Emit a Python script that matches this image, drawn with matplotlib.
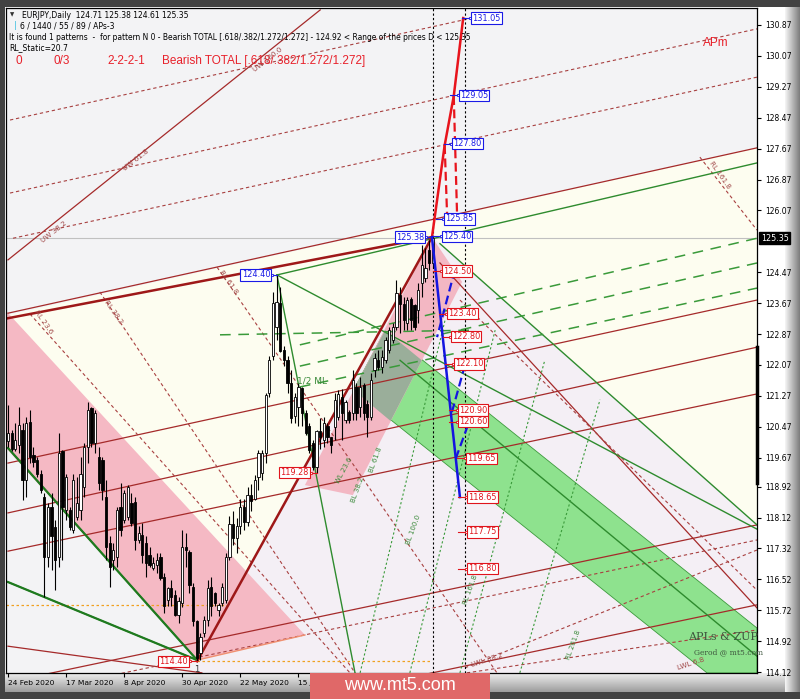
import numpy as np
import matplotlib
matplotlib.use('Agg')
import matplotlib.pyplot as plt
from matplotlib.patches import Polygon, Rectangle
import matplotlib.transforms as mtransforms

plt.rcParams['font.family'] = ['DejaVu Sans']

# ---------------- candles (bar index 0 = 24 Feb 2020) ----------------
opens = [120.10,120.30,119.90,120.00,120.39,119.09,120.60,119.74,119.61,119.26,
         118.66,117.10,118.40,117.88,117.11,119.83,118.32,118.32,117.80,118.14,
         118.32,118.92,119.95,120.95,120.04,119.70,119.61,118.66,117.45,117.02,
         117.11,118.40,118.06,118.14,118.49,118.53,117.54,117.67,117.46,117.15,
         116.81,116.89,117.11,116.59,115.99,116.29,116.12,115.60,115.90,117.37,
         117.24,116.33,115.43,114.61,115.12,115.47,116.33,116.16,115.73,115.90,
         115.99,117.11,117.95,117.60,117.90,118.40,118.00,118.70,118.60,119.18,
         119.27,119.79,121.34,122.29,123.06,123.67,122.46,122.20,121.60,120.74,
         120.99,121.47,120.82,120.48,120.04,119.44,120.35,120.13,120.50,120.20,
         120.47,120.73,121.25,120.64,120.86,120.82,121.51,120.99,121.55,121.07,
         120.73,121.94,122.20,122.02,122.20,122.45,122.71,123.06,123.88,123.66,
         123.15,123.79,123.62,123.49,124.18,124.31,125.04,124.71]
highs = [121.03,120.39,120.56,120.99,120.56,120.73,120.90,119.95,119.70,119.35,
         118.75,118.49,118.75,118.06,120.30,119.87,119.26,118.40,119.26,119.18,
         119.69,120.04,121.12,120.99,120.90,119.95,119.70,119.09,117.63,117.45,
         118.40,119.01,118.84,118.97,118.75,118.66,117.89,117.97,117.63,117.37,
         117.11,117.20,117.20,116.68,116.33,116.51,116.25,116.07,117.80,117.71,
         117.28,116.42,115.47,115.12,115.56,116.51,116.59,116.20,115.90,116.42,
         117.20,118.15,118.30,118.10,118.60,118.60,118.90,119.00,119.23,119.87,
         119.87,121.34,122.29,123.97,124.40,124.10,122.55,122.29,121.94,121.34,
         121.60,121.51,120.91,120.56,120.13,120.39,120.70,120.72,120.56,120.21,
         121.34,121.42,121.46,121.16,120.90,121.94,121.59,121.77,121.59,121.16,
         121.85,122.37,122.45,122.45,122.80,123.06,123.15,124.27,124.10,123.84,
         123.84,123.84,123.66,124.18,125.17,125.09,125.30,125.38]
lows = [119.95,119.83,119.83,119.78,118.57,118.66,119.52,119.44,119.18,118.75,
        116.07,116.85,116.76,116.24,116.85,117.02,118.06,117.80,117.71,118.06,
        118.06,118.66,119.52,119.95,119.78,118.83,118.57,117.02,116.33,116.76,
        116.85,117.63,117.97,118.06,117.89,117.28,117.46,116.94,116.59,116.85,
        116.76,116.68,116.51,115.64,115.82,115.82,115.56,115.38,115.80,116.85,
        116.16,115.30,114.40,114.44,115.04,115.30,115.56,115.82,115.56,115.82,
        115.90,117.02,117.40,117.20,117.70,117.80,117.90,118.30,118.58,118.84,
        119.10,119.53,121.25,122.20,122.72,122.40,122.03,121.34,120.56,120.56,
        120.48,120.48,120.25,119.79,119.35,119.28,119.90,119.95,120.04,119.78,
        120.13,120.64,120.13,120.56,120.56,120.64,120.64,120.73,120.64,120.21,
        120.64,121.77,121.94,121.85,122.11,122.37,122.63,122.97,122.89,122.97,
        122.97,122.97,122.97,123.15,123.84,124.22,124.53,124.61]
closes = [120.30,119.90,120.13,120.52,119.09,120.56,119.70,119.57,119.26,118.83,
          117.11,118.40,117.63,117.02,119.78,118.40,119.18,117.88,119.09,118.49,
          119.26,119.95,120.90,120.04,120.82,119.01,118.83,117.37,116.85,117.28,
          118.32,117.80,118.75,118.92,117.97,117.54,117.71,117.15,116.94,116.90,
          116.94,117.02,116.55,115.82,116.29,116.07,115.60,115.95,117.37,117.28,
          116.38,115.43,114.48,115.04,115.47,116.29,115.82,115.90,115.86,116.33,
          117.11,117.95,117.60,117.90,118.40,118.00,118.70,118.55,119.10,119.79,
          119.79,121.30,122.20,123.67,123.71,122.42,122.20,121.60,120.69,121.25,
          121.51,120.82,120.30,119.87,119.44,120.35,120.20,120.56,120.20,120.00,
          121.16,121.33,120.82,121.12,120.64,121.68,120.82,121.51,120.82,120.73,
          121.68,122.24,122.02,122.28,122.71,122.97,123.06,123.92,123.66,123.23,
          123.75,123.23,123.06,124.01,124.65,124.57,124.70,125.35]

date_ticks = [0, 16, 32, 48, 64, 80, 96, 112]
date_labels = ['24 Feb 2020', '17 Mar 2020', '8 Apr 2020', '30 Apr 2020',
               '22 May 2020', '15 Jun 2020', '', '']
price_ticks = [130.87, 130.07, 129.27, 128.47, 127.67, 126.87, 126.07, 124.47,
               123.67, 122.87, 122.07, 121.27, 120.47, 119.67, 118.92, 118.12,
               117.32, 116.52, 115.72, 114.92, 114.12]
last_price = 125.35
last_bar = 117
shift_bar = 126

# ---------------- indicator objects (bar, price) ----------------
cream_zone = [(-0.55, 123.35), (206.34, 127.69), (206.34, 117.93), (119.0, 125.21),
              (116.8, 125.38), (65.7, 116.73)]
lavender_zone = [(65.7, 116.73), (116.8, 125.38), (119.0, 125.21), (206.34, 117.93),
                 (206.34, 114.096), (52.1, 114.096), (52.1, 114.43)]
pink_triangle = [(-0.55, 123.47), (81.8, 115.08), (52.1, 114.43), (-0.55, 119.92)]
pink_band = [(81.8, 118.96), (116.8, 125.38), (125.1, 124.22), (95.0, 118.70)]
green_band = [(103.9, 122.97), (206.34, 115.26), (206.34, 114.096), (192.6, 114.096), (95.2, 121.42)]
overlap_zone = [(103.9, 122.97), (114.0, 122.19), (105.4, 120.62), (95.2, 121.42)]

red_solid_lines = [  # channel lines
    [(0, 123.41), (206.34, 127.69)],
    [(0, 119.53), (206.34, 123.75)],
    [(0, 118.24), (206.34, 122.53)],
    [(0, 117.25), (206.34, 121.32)],
    [(0, 113.86), (206.34, 117.93)],
    [(0, 111.80), (206.34, 115.86)],
    [(0, 124.79), (86.0, 131.26)],          # UW line
    [(119.0, 124.71), (206.34, 115.78)],
    [(0, 114.79), (53.4, 114.10)],
]
thick_red_lines = [
    [(0, 123.28), (116.8, 125.38)],
    [(52.1, 114.40), (116.8, 125.38)],
]
red_dashed_lines = [
    [(0.55, 128.41), (135.5, 131.21)],
    [(0.55, 126.52), (206.34, 130.77)],
    [(1.38, 125.35), (206.34, 129.52)],
    [(6.06, 123.39), (94.2, 114.10)],
    [(25.3, 123.96), (95.6, 114.10)],
    [(57.6, 124.60), (134.7, 114.10)],
    [(190.6, 127.45), (206.34, 125.56)],
    [(124.5, 123.75), (206.34, 116.24)],
    [(0, 113.47), (206.34, 117.54)],
    [(126.4, 114.10), (206.34, 115.21)],
    [(125.9, 114.23), (206.34, 117.28)],
]
green_solid_lines = [
    [(0, 119.92), (52.1, 114.43)],
    [(0, 116.45), (52.1, 114.43)],
    [(74.1, 124.40), (206.34, 127.30)],
    [(74.1, 124.40), (95.6, 114.10)],
    [(74.1, 124.40), (206.34, 117.82)],
    [(119.0, 125.21), (206.34, 117.93)],
    [(108.0, 122.19), (206.34, 114.53)],
]
green_dashed_lines = [
    [(80.4, 122.59), (206.34, 125.35)],
    [(80.4, 122.04), (206.34, 124.71)],
    [(80.4, 121.50), (206.34, 124.06)],
    [(58.4, 122.85), (127.3, 122.97)],
]
green_dotted_lines = [
    [(97.0, 114.10), (120.4, 123.23)],
    [(110.7, 114.10), (134.2, 122.97)],
    [(124.5, 114.10), (147.9, 122.20)],
    [(141.0, 114.10), (163.1, 121.17)],
]
orange_levels = [(114.40, 52.1, 116.8), (115.86, -0.55, 61.2)]
salmon_edge = [(52.1, 114.43), (81.8, 115.08)]

proj_red_solid = [(116.8, 125.38), (120.3, 127.76), (122.8, 129.03), (125.4, 131.05)]
proj_red_dashed = [[(122.8, 129.03), (123.7, 126.00)], [(120.3, 127.76), (121.0, 125.85)]]
proj_blue_solid = [(116.8, 125.38), (124.5, 118.65)]
proj_blue_dashed = [[(123.1, 124.53), (118.2, 122.79)],
                    [(125.9, 122.07), (122.3, 120.85)],
                    [(126.7, 120.51), (123.4, 119.66)]]

blue_lbl_vals = [131.05, 129.05, 127.80, 125.85, 125.40]
blue_lbl_bars = [127.8, 124.5, 122.6, 120.4, 119.8]
red_lbl_vals = [124.50, 123.40, 122.80, 122.10, 120.90, 120.60, 119.65, 118.65, 117.75, 116.80]
red_lbl_bars = [119.8, 121.2, 122.3, 123.1, 124.2, 124.2, 126.4, 126.7, 126.7, 126.7]
left_lbl_vals = [125.38, 124.40, 119.28, 114.40]
left_lbl_bars = [114.6, 72.2, 82.9, 49.6]
left_lbl_pts = [116.8, 74.1, 85.0, 52.1]
left_lbl_cols = ['#1a1ae6', '#1a1ae6', '#e0141c', '#e0141c']

# ---------------- figure ----------------
W, H = 800, 699
fig = plt.figure(figsize=(8, 6.99), dpi=100)

bg = fig.add_axes([0, 0, 1, 1], zorder=-10)
arr = np.ones((H, W, 3)) * 0.26
arr[7:692, 5:785] = 1.0
arr[7:692, 785:800] = np.linspace(0.95, 0.5, 15)[None, :, None]
arr[673:692, 5:785] = np.linspace(0.93, 0.62, 19)[:, None, None]
bg.imshow(arr, extent=[0, W, H, 0], aspect='auto', interpolation='bilinear')
bg.set_xlim(0, W); bg.set_ylim(H, 0)
bg.set_axis_off()

ax = fig.add_axes([6 / W, (H - 673) / H, (757 - 6) / W, (673 - 8) / H])
ax.set_xlim(-0.55, 206.34)
ax.set_ylim(114.096, 131.31)
ax.set_facecolor('#f3f3f5')

def poly(pts, fc, z, ec='none', lw=0):
    ax.add_patch(Polygon(pts, closed=True, facecolor=fc, edgecolor=ec, lw=lw, zorder=z))

poly(cream_zone, '#fdfdf0', 0.5)
poly(lavender_zone, '#f4eff5', 0.6)
poly(pink_triangle, '#f5b9c4', 0.7)
poly(green_band, '#8ee28e', 0.8, ec='#3c9a3c', lw=0.6)
poly(pink_band, '#f3b7c3', 0.9)
poly(overlap_zone, '#9aae9a', 1.0)

def draw(seg, **kw):
    xs, ys = zip(*seg)
    ax.plot(xs, ys, **kw)

for s in red_solid_lines:
    draw(s, color='#a52a2a', lw=0.9, zorder=2)
for s in thick_red_lines:
    draw(s, color='#9e1818', lw=1.8, zorder=2.5)
for s in red_dashed_lines:
    draw(s, color='#a84040', lw=0.8, ls=(0, (3, 2.5)), zorder=2)
for s in green_solid_lines:
    draw(s, color='#2e8b2e', lw=1.0, zorder=2.2)
draw(green_solid_lines[0], color='#1f7a1f', lw=1.6, zorder=2.3)
draw(green_solid_lines[1], color='#1f7a1f', lw=1.6, zorder=2.3)
for s in green_dashed_lines:
    draw(s, color='#3a9a3a', lw=1.1, ls=(0, (7, 5)), zorder=2.2)
for s in green_dotted_lines:
    draw(s, color='#3a9a3a', lw=0.8, ls=(0, (2, 2)), zorder=2.2)
for lvl, x0, x1 in orange_levels:
    ax.plot([x0, x1], [lvl, lvl], color='#f0a020', lw=0.9, ls=(0, (2, 2)), zorder=2.2)
draw(salmon_edge, color='#f09070', lw=1.0, zorder=2.2)

ax.axhline(last_price, color='#c0c0c0', lw=0.8, zorder=1.5)
ax.axvline(last_bar, color='black', lw=0.8, ls=(0, (2, 2)), zorder=3)
ax.axvline(shift_bar, color='black', lw=0.8, ls=(0, (2, 2)), zorder=3)

# candles
xb = np.arange(len(opens))
o = np.array(opens); c = np.array(closes); hi = np.array(highs); lo = np.array(lows)
ax.vlines(xb, lo, hi, color='black', lw=0.8, zorder=5)
up = c >= o
ax.bar(xb[up], np.maximum(c - o, 0.02)[up], bottom=o[up], width=0.62, color='white',
       edgecolor='black', lw=0.6, zorder=6)
ax.bar(xb[~up], np.maximum(o - c, 0.02)[~up], bottom=c[~up], width=0.62, color='black',
       edgecolor='black', lw=0.6, zorder=6)

# projections
draw(proj_red_solid, color='#e8141c', lw=1.8, zorder=7)
for s in proj_red_dashed:
    draw(s, color='#e8141c', lw=1.6, ls=(0, (4, 2)), zorder=7)
draw(proj_blue_solid, color='#1414e0', lw=1.8, zorder=7)
for s in proj_blue_dashed:
    draw(s, color='#1414e0', lw=1.6, ls=(0, (4, 2)), zorder=7)

def box_label(xpos, val, col, ha='left'):
    ax.text(xpos, val, f'{val:.2f}', color=col, fontsize=5.9, ha=ha, va='center', zorder=9,
            bbox=dict(boxstyle='square,pad=0.15', fc='white', ec=col, lw=0.8))

for v, b in zip(blue_lbl_vals, blue_lbl_bars):
    ax.plot([b - 2.6, b - 0.4], [v, v], color='#1a1ae6', lw=0.8, zorder=8)
    ax.plot([b - 0.5], [v], marker='s', ms=2, mfc='white', mec='#1a1ae6', mew=0.6, zorder=8)
    box_label(b, v, '#1a1ae6')
for v, b in zip(red_lbl_vals, red_lbl_bars):
    ax.plot([b - 2.6, b - 0.4], [v, v], color='#e0141c', lw=0.8, zorder=8)
    ax.plot([b - 0.5], [v], marker='s', ms=2, mfc='white', mec='#e0141c', mew=0.6, zorder=8)
    box_label(b, v, '#e0141c')
for v, b, p, col in zip(left_lbl_vals, left_lbl_bars, left_lbl_pts, left_lbl_cols):
    ax.plot([b + 0.4, p], [v, v], color=col, lw=0.8, zorder=8)
    ax.plot([b + 0.5], [v], marker='s', ms=2, mfc='white', mec=col, mew=0.6, zorder=8)
    box_label(b, v, col, ha='right')

# axes styling
for sp in ax.spines.values():
    sp.set_color('black'); sp.set_linewidth(0.9)
ax.yaxis.tick_right()
ax.set_yticks(price_ticks)
ax.set_yticklabels([f'{p:.2f}' for p in price_ticks])
ax.tick_params(axis='y', length=3, width=0.8, pad=3, labelsize=5.5, colors='black')
ax.set_xticks(date_ticks)
ax.set_xticklabels(date_labels)
for lbl in ax.get_xticklabels():
    lbl.set_ha('left')
ax.tick_params(axis='x', length=3, width=0.8, pad=2, labelsize=5.4)

bt = mtransforms.blended_transform_factory(ax.transAxes, ax.transData)
ax.text(1.005, last_price, f'{last_price:.2f}', transform=bt, color='white', fontsize=5.8,
        ha='left', va='center', zorder=10, clip_on=False,
        bbox=dict(boxstyle='square,pad=0.2', fc='black', ec='black'))
ax.plot([1.0, 1.0], [122.53, 119.01], transform=bt, color='black', lw=2.5, clip_on=False, zorder=10)

# ---------------- texts ----------------
def ft(x, y, s, **kw):
    fig.text(x / W, 1 - y / H, s, va='center', **kw)

ft(10, 15, '\u25bc', fontsize=4, color='#333333')
ft(22, 15, 'EURJPY,Daily  124.71 125.38 124.61 125.35', fontsize=5.5, color='black')
ft(14, 26, '|', fontsize=6, color='#40c0e0')
ft(20, 26, '6 / 1440 / 55 / 89 / APs-3', fontsize=5.5, color='black')
ft(9, 37, 'It is found 1 patterns  -  for pattern N 0 - Bearish TOTAL [.618/.382/1.272/1.272] - 124.92 < Range of the prices D < 125.35',
   fontsize=5.45, color='black')
ft(9, 48, 'RL_Static=20.7', fontsize=5.5, color='black')
red_font = dict(fontsize=8.5, color='#e8202a', family='Liberation Sans')
ft(16, 61, '0', **red_font)
ft(53, 61, '0/3', **red_font)
ft(107, 61, '2-2-2-1', **red_font)
ft(162, 61, 'Bearish TOTAL [.618/.382/1.272/1.272]', **red_font)
ft(703, 43, 'APm', **red_font)

brown = '#a04848'
for s, x, y, r in [('UW 38.2', 40, 232, 38), ('UW 61.8', 122, 160, 38), ('UW 100.0', 252, 60, 38),
                   ('RL 23.6', 33, 322, -55), ('RL 38.2', 103, 312, -55), ('RL 61.8', 218, 282, -55),
                   ('RL 161.8', 708, 175, -55), ('LWL 38.2', 470, 660, 18), ('LWL 6.8', 676, 664, 18)]:
    ft(x, y, s, fontsize=5.2, color=brown, rotation=r, ha='left')
green_t = '#3a8a3a'
for s, x, y, r in [('WL 23.6', 335, 470, 62), ('BL 38.2', 350, 490, 70), ('BL 61.8', 368, 460, 70),
                   ('BL 100.0', 405, 530, 70), ('RL 161.8', 462, 590, 70), ('RL 261.8', 565, 645, 70)]:
    ft(x, y, s, fontsize=5.0, color=green_t, rotation=r, ha='left')
ft(297, 381, '1/2 ML', fontsize=6.5, color=green_t)
ft(194, 669, '1', fontsize=6, color='#333333')
ft(688, 637, 'APLs & ZUP', fontsize=8, color='#3d553d', family='DejaVu Serif')
ft(694, 652, 'Gerod @ mt5.com', fontsize=5.5, color='#3d553d', family='DejaVu Serif')

# watermark
fig.add_artist(Rectangle((310 / W, 0), 180 / W, 26 / H, transform=fig.transFigure,
                         facecolor='#e06868', edgecolor='none', zorder=20))
fig.text(400 / W, 1 - 686 / H, 'www.mt5.com', color='white', fontsize=13, ha='center',
         va='center', zorder=21, family='Liberation Sans')

fig.savefig('out.png', dpi=100)
